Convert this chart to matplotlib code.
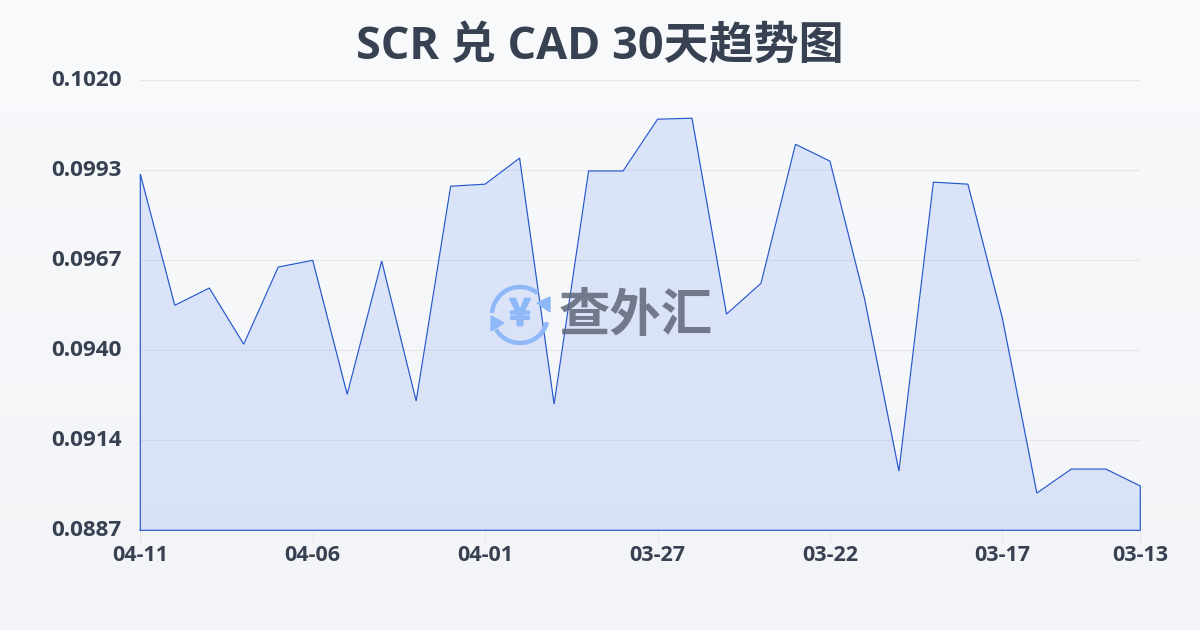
import matplotlib
matplotlib.use('Agg')
import matplotlib.pyplot as plt
from matplotlib.patches import Arc, Polygon
from matplotlib.transforms import ScaledTranslation
import matplotlib.patheffects as pe
import numpy as np

plt.rcParams['font.family'] = ['Open Sans', 'Noto Sans CJK SC', 'DejaVu Sans']

# values, newest day first
dates = ['04-11', '04-06', '04-01', '03-27', '03-22', '03-17', '03-13']
date_pos = [0, 5, 10, 15, 20, 25, 29]
rates = [0.09923, 0.09535, 0.09586, 0.09420, 0.09648, 0.09668, 0.09272, 0.09666,
         0.09252, 0.09887, 0.09893, 0.09970, 0.09243, 0.09932, 0.09932, 0.10085,
         0.10088, 0.09509, 0.09600, 0.10011, 0.09961, 0.09556, 0.09045, 0.09899,
         0.09893, 0.09497, 0.08980, 0.09051, 0.09051, 0.09001]
y_ticks = [0.1020, 0.09934, 0.09668, 0.09402, 0.09136, 0.0887]
y_labels = ['0.1020', '0.0993', '0.0967', '0.0940', '0.0914', '0.0887']

text_color = '#374151'
line_color = '#2557cc'

fig = plt.figure(figsize=(12, 6.3), dpi=100)

# page background, light gradient top to bottom
bg = fig.add_axes([0, 0, 1, 1], zorder=0)
grad = np.linspace(0, 1, 256).reshape(-1, 1)
top = np.array([248, 250, 252]) / 255
bottom = np.array([243, 244, 247]) / 255
bg.imshow(top + (bottom - top) * grad[..., None], aspect='auto', extent=[0, 1, 0, 1])
bg.axis('off')

ax = fig.add_axes([140.3 / 1200, 1 - 530.3 / 630, 1000 / 1200, 450 / 630], zorder=1)
ax.patch.set_alpha(0)
x = np.arange(len(rates))
ax.set_xlim(0, len(rates) - 1)
ax.set_ylim(y_ticks[-1], y_ticks[0])

ax.fill_between(x, rates, y_ticks[-1], color='#2563eb', alpha=0.13, linewidth=0, zorder=2)
# outline runs round the whole area, base and sides too
ax.plot(np.r_[x[0], x, x[-1], x[0]], np.r_[y_ticks[-1], rates, y_ticks[-1], y_ticks[-1]],
        color=line_color, lw=0.85, zorder=3, clip_on=False, solid_joinstyle='miter')

ax.set_yticks(y_ticks)
ax.set_yticklabels(y_labels)
ax.set_xticks(date_pos)
ax.set_xticklabels(dates)
ax.grid(axis='y', color='#e5e7eb', lw=0.8, zorder=1)
for side in ax.spines.values():
    side.set_visible(False)
ax.tick_params(axis='y', length=0, pad=13.5, labelsize=16.2, labelcolor=text_color)
ax.tick_params(axis='x', length=9, width=0.8, color='#e5e7eb', pad=1.5, labelsize=15.5, labelcolor=text_color)
for lab in ax.get_xticklabels() + ax.get_yticklabels():
    lab.set_fontweight('bold')
# y labels sit a little above their grid lines
up = ScaledTranslation(0, 2 / 100, fig.dpi_scale_trans)
for lab in ax.get_yticklabels():
    lab.set_transform(lab.get_transform() + up)

fig.text(0.5, 1 - 47 / 630, 'SCR 兑 CAD 30天趋势图', ha='center', va='center',
         fontsize=32.4, fontweight='bold', color=text_color)

# watermark in pixel coordinates
wm = fig.add_axes([0, 0, 1, 1], zorder=2)
wm.set_xlim(0, 1200)
wm.set_ylim(630, 0)
wm.axis('off')
logo = '#8fb8f8'
wm.add_patch(Arc((520, 315), 56, 56, theta1=184, theta2=309, color=logo, lw=3.2))
wm.add_patch(Arc((520, 315), 56, 56, theta1=15, theta2=149, color=logo, lw=3.2))
wm.add_patch(Polygon([[550, 297], [550, 312], [537, 303]], color=logo))
wm.add_patch(Polygon([[491, 316], [491, 331], [504, 323]], color=logo))
wm.text(520, 314, '¥', ha='center', va='center', fontsize=27, fontweight='bold',
        family=['Noto Sans CJK SC', 'DejaVu Sans'], color=logo,
        path_effects=[pe.withStroke(linewidth=1.2, foreground=logo)])
wm.text(636, 315, '查外汇', ha='center', va='center', fontsize=37, fontweight='bold',
        family=['Noto Sans CJK SC', 'DejaVu Sans'], color='#5f6778', alpha=0.85)

fig.savefig('out.png', dpi=100)
